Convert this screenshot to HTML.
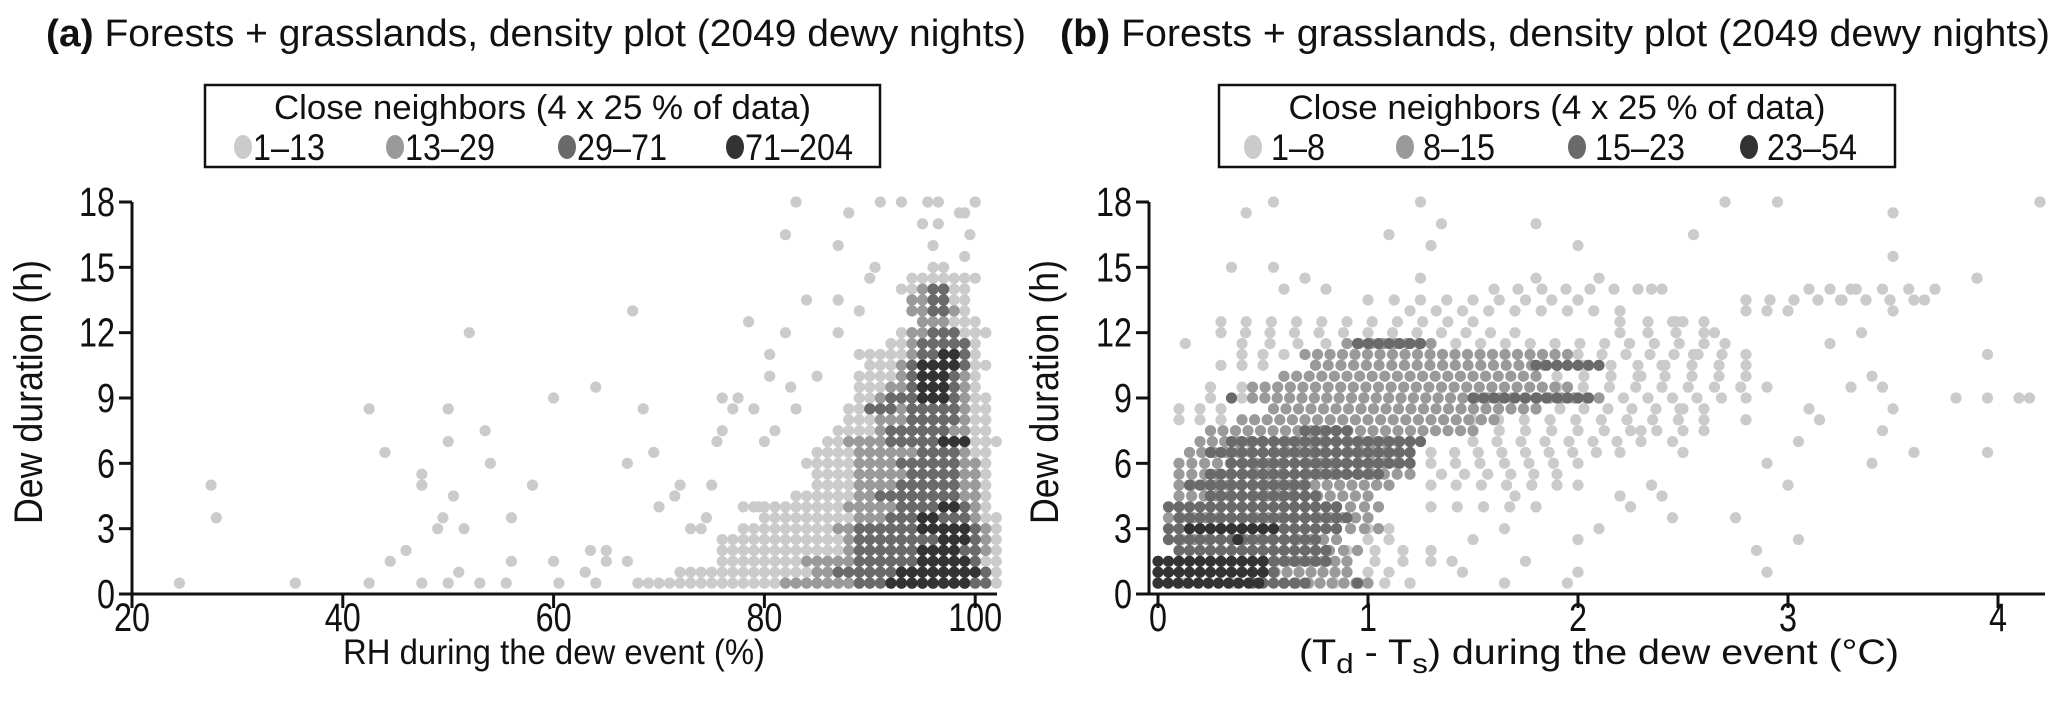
<!DOCTYPE html>
<html><head><meta charset="utf-8"><style>
html,body{margin:0;padding:0;background:#fff}
svg{display:block;font-family:"Liberation Sans Narrow","Liberation Sans",sans-serif}
</style></head><body>
<svg id="chart" width="2067" height="723" viewBox="0 0 2067 723" xmlns="http://www.w3.org/2000/svg">
<g id="pa"></g>
<g id="pb"></g>
</svg>
<script>
// ---------- data ----------
const colorsA = ["#cbcbcb","#9a9a9a","#6a6a6a","#333333"];
const legendLabelsA = ["1\u201313","13\u201329","29\u201371","71\u2013204"];
const legendLabelsB = ["1\u20138","8\u201315","15\u201323","23\u201354"];
const xTicksA = [20,40,60,80,100];
const xTicksB = [0,1,2,3,4];
const yTicks = [0,3,6,9,12,15,18];
// segments: [class, y, xStart, xEnd]
const segA = [
[0,0.5,68,102],[0,1,72,102],[0,1.5,76,102],[0,2,76,102],[0,2.5,76,102],[0,3,78,102],[0,3.5,80,102],[0,4,78,101],[0,4.5,83,101],[0,5,85,101],[0,5.5,85,101],[0,6,84,101],[0,6.5,85,101],[0,7,86,102],[0,7.5,87,101],[0,8,88,101],[0,8.5,88,101],[0,9,89,101],[0,9.5,89,100],[0,10,89,100],[0,10.5,90,101],[0,11,89,100],[0,11.5,92,100],[0,12,93,101],[0,12.5,95,100],[0,13,94,99],[0,13.5,94,99],[0,14,93,99],[0,14.5,94,99],[0,15,96,97],
[1,0.5,82,90],[1,1,85,100],[1,1.5,84,100],[1,2,88,101],[1,2.5,88,101],[1,3,87,101],[1,3.5,89,100],[1,4,88,100],[1,4.5,89,100],[1,5,89,100],[1,5.5,89,100],[1,6,89,100],[1,6.5,89,99],[1,7,88,99],[1,7.5,91,99],[1,8,91,99],[1,8.5,91,99],[1,9,91,99],[1,9.5,92,99],[1,10,93,99],[1,10.5,93,99],[1,11,94,99],[1,11.5,94,99],[1,12,94,98],[1,12.5,95,97],[1,13,94,98],[1,13.5,94,97],[1,14,95,97],
[2,0.5,89,101],[2,1,87,101],[2,1.5,89,100],[2,2,89,100],[2,2.5,89,100],[2,3,89,100],[2,3.5,92,99],[2,4,93,99],[2,4.5,91,98],[2,5,93,98],[2,5.5,94,98],[2,6,93,98],[2,6.5,95,98],[2,7,92,99],[2,7.5,92,97],[2,8,94,98],[2,8.5,90,92],[2,8.5,94,98],[2,9,92,98],[2,9.5,94,98],[2,10,94,98],[2,10.5,94,99],[2,11,95,99],[2,11.5,95,99],[2,12,96,98],[2,13,96,97],[2,13.5,96,97],[2,14,96,97],
[3,0.5,92,99],[3,1,93,100],[3,1.5,95,99],[3,2,95,98],[3,2.5,97,99],[3,3,95,99],[3,3.5,95,96],[3,4,97,98],[3,7,97,99],[3,9,95,97],[3,9.5,95,97],[3,10,95,97],[3,10.5,95,98],[3,11,97,98]
];
const ptsAx = [24.5,27.5,28,35.5,42.5,42.5,44,44.5,46,47.5,47.5,47.5,49,49.5,50,50,50,50.5,51,51.5,52,53,53.5,54,55.5,56,56,58,60,60,60.5,63,63.5,64,64,65,65,67,67.5,67,68.5,69.5,70,71.5,72,73,74,74.5,75,75.5,76,76,77,77.5,78.5,79,79.5,80,80.5,80.5,81,82,82.5,83,83,82,84,85,87,87,87,88,89,90,90.5,91,93,95,95.5,96,96.5,96.5,97,98.5,99,99,99.5,100,100,101,101,101];
const ptsAy = [0.5,5,3.5,0.5,8.5,0.5,6.5,1.5,2,5.5,5,0.5,3,3.5,8.5,7,0.5,4.5,1,3,12,0.5,7.5,6,0.5,3.5,1.5,5,9,1.5,0.5,1,2,9.5,0.5,2,1.5,6,13,1.5,8.5,6.5,4,4.5,5,3,3,3.5,5,7,9,7.5,8.5,9,12.5,8.5,4,7,11,10,7.5,12,9.5,8.5,18,16.5,13.5,10,16,12,13.5,17.5,13,14.5,15,18,18,17,18,16,17,18,15,17.5,17.5,15.5,16.5,18,14.5,12,7,8];
const segB = [
[0,0.5,0,1.2],[0,1,0.9,1.1],[0,1.5,0.9,1.3],[0,2,0.9,1.3],[0,2.5,1.0,1.1],[0,3,1.0,1.1],[0,4,1.3,1.8],[0,5,1.3,1.9],[0,5.5,1.35,1.9],[0,6,1.3,2.0],[0,6.5,1.3,2.2],[0,7,1.5,2.3],[0,7.5,1.5,2.5],[0,8,0.1,0.3],[0,8,1.5,2.6],[0,8.5,0.1,0.3],[0,8.5,1.8,2.6],[0,9,0.25,0.4],[0,9,2.1,2.8],[0,9.5,0.25,0.4],[0,9.5,1.9,2.9],[0,10,1.9,2.8],[0,10.5,0.3,0.5],[0,10.5,1.9,2.8],[0,11,0.4,0.6],[0,11,2.0,2.8],[0,11.5,0.4,0.8],[0,11.5,1.3,2.6],[0,12,0.3,1.7],[0,12,2.2,2.6],[0,12.5,0.3,1.5],[0,12.5,2.2,2.6],[0,13,1.2,2.2],[0,13,2.8,3.0],[0,13.5,1.0,2.0],[0,13.5,2.8,3.6],[0,14,1.6,2.4],[0,14,3.2,3.7],
[1,0.5,0.6,1.0],[1,1,0.5,0.9],[1,1.5,0.5,0.9],[1,2,0.75,0.95],[1,2.5,0.05,0.85],[1,3,0.85,1.05],[1,3.5,0.05,1.0],[1,4,0.85,1.05],[1,4.5,0.1,1.0],[1,5,0.1,1.1],[1,5.5,0.1,1.2],[1,6,0.1,1.2],[1,6.5,0.15,1.2],[1,7,0.2,1.2],[1,7.5,0.25,1.5],[1,8,0.4,1.6],[1,8.5,0.55,1.8],[1,9,0.45,2.1],[1,9.5,0.45,1.95],[1,10,0.6,1.8],[1,10.5,0.75,1.9],[1,11,0.7,1.95],[1,11.5,0.9,1.3],
[2,0.5,0.45,0.7],[2,0.5,0.95,0.95],[2,1,0.5,0.55],[2,1.5,0.5,0.8],[2,2,0.1,0.8],[2,2.5,0.05,0.75],[2,3,0.05,0.85],[2,3.5,0.1,0.9],[2,4,0.05,0.85],[2,4.5,0.25,0.75],[2,5,0.15,0.7],[2,5.5,0.25,1.05],[2,6,0.35,1.2],[2,6.5,0.25,1.2],[2,7,0.35,1.25],[2,7.5,0.7,0.9],[2,9,0.35,0.35],[2,9,1.5,2.05],[2,10.5,1.8,2.1],[2,11.5,0.95,1.25],
[3,0.5,0,0.48],[3,1,0,0.5],[3,1.5,0,0.5],[3,2.5,0.38,0.4],[3,3,0.15,0.55]
];
const ptsBx = [0.13,0.35,0.42,0.55,0.55,0.6,0.7,0.8,1.1,1.25,1.3,1.35,1.8,2.0,2.1,2.7,2.95,2.55,3.5,3.5,4.2,3.9,3.65,3.5,3.95,3.8,3.95,4.1,4.15,3.95,3.6,3.4,3.45,3.5,3.3,3.35,3.1,3.15,3.05,3.0,3.05,2.9,2.85,2.75,2.8,2.9,2.6,2.5,2.4,2.45,2.1,2.0,1.95,2.0,1.65,1.75,1.45,1.4,1.2,1.65,1.5,1.7,2.2,2.25,2.0,2.35,2.45,2.5,2.3,3.2,3.25,3.3,3.4,3.45,2.7,2.65,2.5,2.45,2.35,2.55,3.1,2.4,2.3,0.7,1.25,1.8,3.9];
const ptsBy = [11.5,15,17.5,18,15,14,14.5,14,16.5,18,16,17,17,16,14.5,18,18,16.5,17.5,15.5,18,14.5,13.5,13,11,9,9,9,9,6.5,6.5,6,7.5,8.5,9.5,12,8.5,8,7,5,2.5,1,2,3.5,8,6,7.5,6.5,4.5,3.5,3,2.5,0.5,1,0.5,1.5,1,1.5,0.5,3,2.5,4.5,4.5,4,5,5,7,8.5,7.5,11.5,13.5,14,10,9.5,11.5,12,12.5,12.5,14,11,14,10.5,10,14.5,14.5,14.5,14.5];

// ---------- helpers ----------
const NS="http://www.w3.org/2000/svg";
function mk(tag,attrs,parent,text){const e=document.createElementNS(NS,tag);for(const k in attrs)e.setAttribute(k,attrs[k]);if(text!==undefined)e.textContent=text;parent.appendChild(e);return e;}
const Y0=594, Y18=202;
const yScale=v=>Y0+(Y18-Y0)*v/18;

function panel(g,cfg){
  const xs=v=>cfg.px0+(v-cfg.v0)*cfg.ppu;
  const t=mk("text",{x:cfg.titleX,y:46,"font-size":38,textLength:cfg.titleW,lengthAdjust:"spacingAndGlyphs",fill:"#111"},g);
  
  
  mk("tspan",{"font-weight":"bold"},t,cfg.tag);
  mk("tspan",{},t," Forests + grasslands, density plot (2049 dewy nights)");
  const lg=mk("g",{},g);
  
  
  mk("rect",{x:cfg.legX,y:85,width:cfg.legW,height:82,fill:"#fff",stroke:"#111","stroke-width":2.5},lg);
  const lt=mk("text",{x:cfg.legX+cfg.legW/2,y:119,"font-size":34,"text-anchor":"middle",textLength:537,lengthAdjust:"spacingAndGlyphs",fill:"#111"},lg,"Close neighbors (4 x 25 % of data)");
  
  
  cfg.legLabels.forEach((lab,i)=>{
    const eg=mk("g",{},lg);
    
    
    mk("ellipse",{cx:cfg.legCircles[i],cy:147,rx:9,ry:12,fill:colorsA[i]},eg);
    mk("text",{x:cfg.legCircles[i]+cfg.legGap,y:160,"font-size":37,textLength:lab.length*18,lengthAdjust:"spacingAndGlyphs",fill:"#111"},eg,lab);
  });
  const pg=mk("g",{},g);
  
  
  for(let c=0;c<4;c++){
    if(c===0){
      cfg.px.forEach((x,i)=>{const d=mk("circle",{cx:xs(x),cy:yScale(cfg.py[i]),r:5.6,fill:colorsA[0]},pg);
        });
    }
    const step=cfg.steps[c];
    cfg.seg.filter(s=>s[0]===c).forEach(s=>{
      const n=Math.max(0,Math.round((s[3]-s[2])/step));
      for(let k=0;k<=n;k++){
        const v=n===0?s[2]:s[2]+(s[3]-s[2])*k/n;
        const d=mk("circle",{cx:xs(v),cy:yScale(s[1]),r:5.6,fill:colorsA[c]},pg);
        
      }
    });
  }
  const ax=mk("g",{stroke:"#111","stroke-width":3,fill:"none"},g);
  
  
  mk("line",{x1:cfg.yAxX,y1:Y18,x2:cfg.yAxX,y2:Y0},ax);
  mk("line",{x1:cfg.yAxX,y1:Y0,x2:cfg.xEnd,y2:Y0},ax);
  yTicks.forEach(v=>{
    mk("line",{x1:cfg.yAxX-13,y1:yScale(v),x2:cfg.yAxX,y2:yScale(v)},ax);
    const s=String(v);
    const l=mk("text",{x:cfg.yAxX-17,y:yScale(v)+14,"font-size":41,"text-anchor":"end",textLength:s.length*18,lengthAdjust:"spacingAndGlyphs",fill:"#111",stroke:"none"},g,s);
    
    
  });
  cfg.xTicks.forEach(v=>{
    mk("line",{x1:xs(v),y1:Y0,x2:xs(v),y2:Y0+14},ax);
    const s=String(v);
    const l=mk("text",{x:xs(v),y:631,"font-size":40,"text-anchor":"middle",textLength:s.length*18,lengthAdjust:"spacingAndGlyphs",fill:"#111"},g,s);
    
    
  });
  const yt=mk("text",{transform:`translate(${cfg.yTitleX},392) rotate(-90)`,"font-size":40,"text-anchor":"middle",textLength:264,lengthAdjust:"spacingAndGlyphs",fill:"#111"},g,"Dew duration (h)");
  
  
  const xt=mk("text",{x:cfg.xTitleX,y:664,"font-size":35,"text-anchor":"middle",fill:"#111"},g);
  
  
  cfg.xTitle(xt);
}

panel(document.getElementById("pa"),{tag:"(a)",titleX:46,titleW:980,legX:205,legW:675,legLabels:legendLabelsA,legCircles:[243,395,567,735],legGap:10,
  px0:132,v0:20,ppu:10.54,steps:[1,1,1,1],seg:segA,px:ptsAx,py:ptsAy,yAxX:132,xEnd:997,xTicks:xTicksA,yTitleX:42,xTitleX:554,
  xTitle:t=>{t.textContent="RH during the dew event (%)";t.setAttribute("textLength","422");t.setAttribute("lengthAdjust","spacingAndGlyphs");}});
panel(document.getElementById("pb"),{tag:"(b)",titleX:1060,titleW:990,legX:1219,legW:676,legLabels:legendLabelsB,legCircles:[1253,1405,1577,1749],legGap:18,
  px0:1158,v0:0,ppu:210,steps:[0.12,0.06,0.05,0.05],seg:segB,px:ptsBx,py:ptsBy,yAxX:1149,xEnd:2045,xTicks:xTicksB,yTitleX:1058,xTitleX:1599,
  xTitle:t=>{t.setAttribute("textLength","600");t.setAttribute("lengthAdjust","spacingAndGlyphs");mk("tspan",{},t,"(T");mk("tspan",{"font-size":28,dy:9},t,"d");mk("tspan",{dy:-9},t,"  - T");mk("tspan",{"font-size":28,dy:9},t,"s");mk("tspan",{dy:-9},t,") during the dew event (°C)");}});
</script>
</body></html>
